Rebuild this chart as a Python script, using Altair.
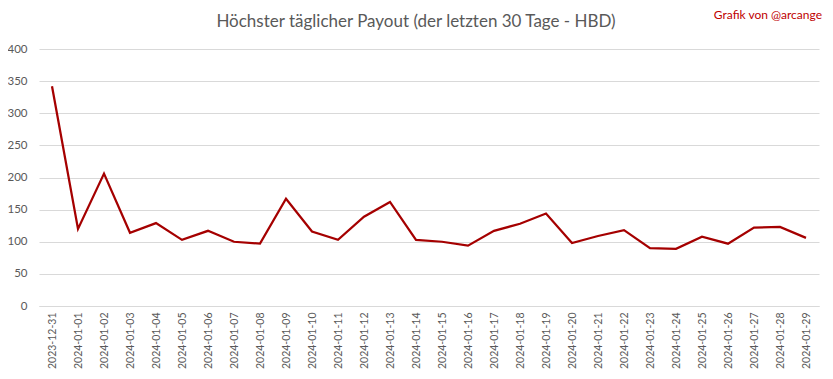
import altair as alt
import pandas as pd

dates = ["2023-12-31", "2024-01-01", "2024-01-02", "2024-01-03", "2024-01-04", "2024-01-05",
         "2024-01-06", "2024-01-07", "2024-01-08", "2024-01-09", "2024-01-10", "2024-01-11",
         "2024-01-12", "2024-01-13", "2024-01-14", "2024-01-15", "2024-01-16", "2024-01-17",
         "2024-01-18", "2024-01-19", "2024-01-20", "2024-01-21", "2024-01-22", "2024-01-23",
         "2024-01-24", "2024-01-25", "2024-01-26", "2024-01-27", "2024-01-28", "2024-01-29"]
payout = [342, 120, 206, 114, 129, 103, 117, 100, 97, 167, 116, 103, 139, 162, 103,
          100, 94, 117, 128, 144, 98, 109, 118, 90, 89, 108, 97, 122, 123, 106]
y_ticks = [0, 50, 100, 150, 200, 250, 300, 350, 400]

title_text = "Höchster täglicher Payout (der letzten 30 Tage - HBD)"
credit_text = "Grafik von @arcange"

df = pd.DataFrame({"date": dates, "value": payout})

FONT = "Lato"
GRAY = "#595959"

base = alt.Chart(df)

line = base.mark_line(color="#A50000", strokeWidth=2.25, strokeJoin="miter").encode(
    x=alt.X("date:N", sort=dates, title=None,
            scale=alt.Scale(type="point", padding=0.5),
            axis=alt.Axis(labelAngle=-90, labelAlign="right", labelBaseline="middle",
                          ticks=False, domain=True, domainColor="#D9D9D9",
                          labelPadding=6, labelFontSize=10.5, labelColor=GRAY,
                          labelFont=FONT, grid=False, labelOverlap=False)),
    y=alt.Y("value:Q", title=None,
            scale=alt.Scale(domain=[0, 400], nice=False),
            axis=alt.Axis(values=y_ticks, ticks=False, domain=False, grid=True,
                          gridColor="#D9D9D9", gridWidth=1, labelPadding=12,
                          labelFontSize=11.5, labelColor=GRAY, labelFont=FONT)),
)

title = alt.Chart(pd.DataFrame({"t": [title_text]})).mark_text(
    font=FONT, fontSize=17, color=GRAY, align="center", baseline="middle"
).encode(text="t:N", x=alt.value(377), y=alt.value(-27))

credit = alt.Chart(pd.DataFrame({"t": [credit_text]})).mark_text(
    font=FONT, fontSize=12, color="#C00000", align="right", baseline="top"
).encode(text="t:N", x=alt.value(783), y=alt.value(-39))

chart = alt.layer(line, title, credit).properties(
    width=780, height=257,
    autosize=alt.AutoSizeParams(type="none"),
    padding={"left": 31, "top": 41, "right": 6, "bottom": 65},
    background="white",
).configure_view(stroke=None)

chart.save("out.html", embed_options={"renderer": "svg", "actions": False})
